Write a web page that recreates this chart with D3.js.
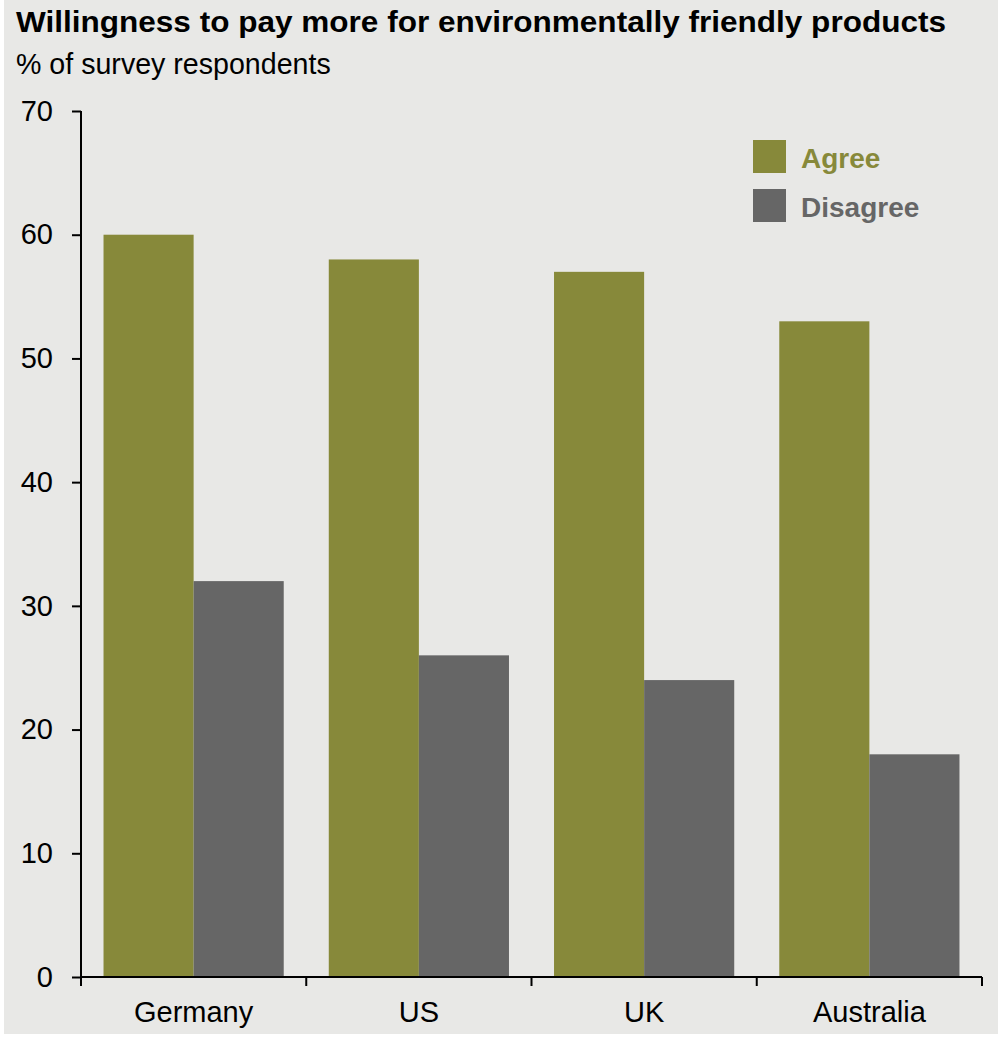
<!DOCTYPE html>
<html><head><meta charset="utf-8">
<script src="https://cdn.jsdelivr.net/npm/d3@7"></script>
<style>
html,body{margin:0;padding:0;background:#fff;}
svg{display:block;font-family:"Liberation Sans",Arial,sans-serif;}
</style></head>
<body>
<script>
const categories = ["Germany", "US", "UK", "Australia"];
const seriesNames = ["Agree", "Disagree"];
const agree = [60, 58, 57, 53];
const disagree = [32, 26, 24, 18];
const yTicks = [0, 10, 20, 30, 40, 50, 60, 70];
const colors = ["#87893a", "#666666"];

(function () {
const W = 998, H = 1038;
const svg = d3.select("body").append("svg").attr("width", W).attr("height", H);
svg.append("rect").attr("x", 0).attr("y", 0).attr("width", W).attr("height", H).attr("fill", "#fff");
svg.append("rect").attr("x", 4).attr("y", 0).attr("width", W - 4).attr("height", H - 4).attr("fill", "#e8e8e6");

svg.append("text").attr("x", 16).attr("y", 32).attr("font-size", 29).attr("font-weight", "bold").attr("fill", "#000")
  .attr("textLength", 930).attr("lengthAdjust", "spacingAndGlyphs")
  .text("Willingness to pay more for environmentally friendly products");
svg.append("text").attr("x", 16).attr("y", 74).attr("font-size", 28.6).attr("fill", "#000")
  .text("% of survey respondents");

const mLeft = 81, mRight = 982, mTop = 111, mBottom = 977;
const x = d3.scaleBand().domain(categories).range([mLeft, mRight]).padding(0);
const bw = x.bandwidth();
const xs = d3.scaleBand().domain(seriesNames).range([bw * 0.1, bw * 0.9]).padding(0);
const y = d3.scaleLinear().domain([0, 70]).range([mBottom, mTop]);

const data = categories.map((c, i) => ({cat: c, vals: [agree[i], disagree[i]]}));
const g = svg.append("g");
data.forEach(d => {
  d.vals.forEach((v, j) => {
    g.append("rect")
      .attr("x", x(d.cat) + xs(seriesNames[j]))
      .attr("y", y(v))
      .attr("width", xs.bandwidth())
      .attr("height", y(0) - y(v))
      .attr("fill", colors[j]);
  });
});

// Y axis
const yAxis = svg.append("g").attr("transform", `translate(${mLeft},0)`)
  .call(d3.axisLeft(y).tickValues(yTicks).tickSize(9).tickPadding(19).tickFormat(d3.format("d")));
yAxis.select(".domain").attr("d", `M0,${mTop}V${mBottom}`).attr("stroke", "#000").attr("stroke-width", 2);
yAxis.selectAll(".tick line").attr("stroke", "#000").attr("stroke-width", 2);
yAxis.selectAll(".tick text").attr("font-size", 29).attr("fill", "#000").attr("font-family", "Liberation Sans, Arial, sans-serif");

// X axis
const xAxis = svg.append("g").attr("transform", `translate(0,${mBottom})`);
xAxis.append("line").attr("x1", mLeft).attr("x2", mRight).attr("y1", 0).attr("y2", 0).attr("stroke", "#000").attr("stroke-width", 2);
const bounds = categories.map(c => x(c)).concat([mRight]);
xAxis.selectAll("line.tk").data(bounds).enter().append("line").attr("class", "tk")
  .attr("x1", d => d).attr("x2", d => d).attr("y1", 0).attr("y2", 9).attr("stroke", "#000").attr("stroke-width", 2);
xAxis.selectAll("text").data(categories).enter().append("text")
  .attr("x", d => x(d) + bw / 2).attr("y", 45).attr("text-anchor", "middle")
  .attr("font-size", 29).attr("fill", "#000").text(d => d);

// Legend
const lg = svg.append("g");
seriesNames.forEach((s, i) => {
  lg.append("rect").attr("x", 753).attr("y", 140 + i * 49).attr("width", 33).attr("height", 33).attr("fill", colors[i]);
  lg.append("text").attr("x", 801).attr("y", 168 + i * 49).attr("font-size", 28).attr("font-weight", "bold")
    .attr("fill", colors[i]).text(s);
});
})();
</script>
</body></html>
